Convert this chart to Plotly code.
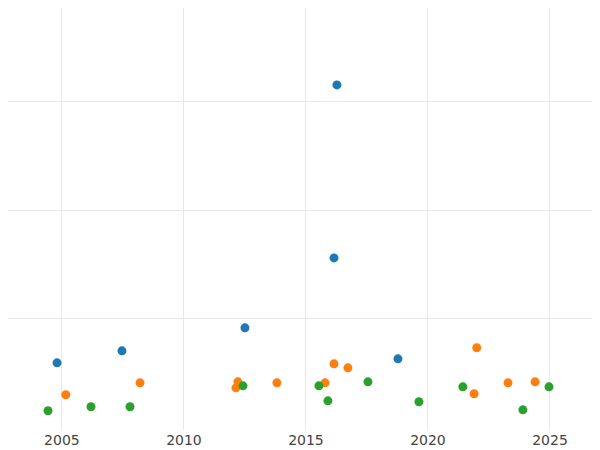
import plotly.graph_objects as go

blue_x = [2004.8, 2007.46, 2012.5, 2016.15, 2016.27, 2018.77]
blue_y = [0.594, 0.705, 0.917, 1.562, 3.157, 0.631]
orange_x = [2005.16, 2008.2, 2012.13, 2012.21, 2013.81, 2015.78, 2016.15, 2016.72, 2022.0, 2021.89, 2023.28, 2024.39]
orange_y = [0.30, 0.41, 0.364, 0.419, 0.41, 0.41, 0.585, 0.548, 0.733, 0.309, 0.41, 0.419]
green_x = [2004.43, 2006.19, 2007.79, 2012.42, 2015.53, 2015.9, 2017.54, 2019.63, 2021.43, 2023.89, 2024.96]
green_y = [0.152, 0.189, 0.189, 0.382, 0.382, 0.244, 0.419, 0.235, 0.373, 0.161, 0.373]

fig = go.Figure()
for xs, ys, c in [(blue_x, blue_y, "#1f77b4"), (orange_x, orange_y, "#ff7f0e"), (green_x, green_y, "#2ca02c")]:
    fig.add_trace(go.Scatter(x=xs, y=ys, mode="markers", marker=dict(color=c, size=9), showlegend=False, cliponaxis=False))

fig.update_layout(
    width=592, height=442, margin=dict(l=0, r=0, t=0, b=20),
    plot_bgcolor="white", paper_bgcolor="white",
    font=dict(family="DejaVu Sans", size=14, color="#444"),
    xaxis=dict(range=[2002.79, 2027.05], tickvals=[2005, 2010, 2015, 2020, 2025],
               showgrid=True, gridcolor="#e8e8e8", zeroline=False, ticks=""),
    yaxis=dict(range=[-0.025, 3.866], tickvals=[1, 2, 3], showticklabels=False,
               showgrid=True, gridcolor="#e8e8e8", zeroline=False),
)
fig.write_html("out.html")
